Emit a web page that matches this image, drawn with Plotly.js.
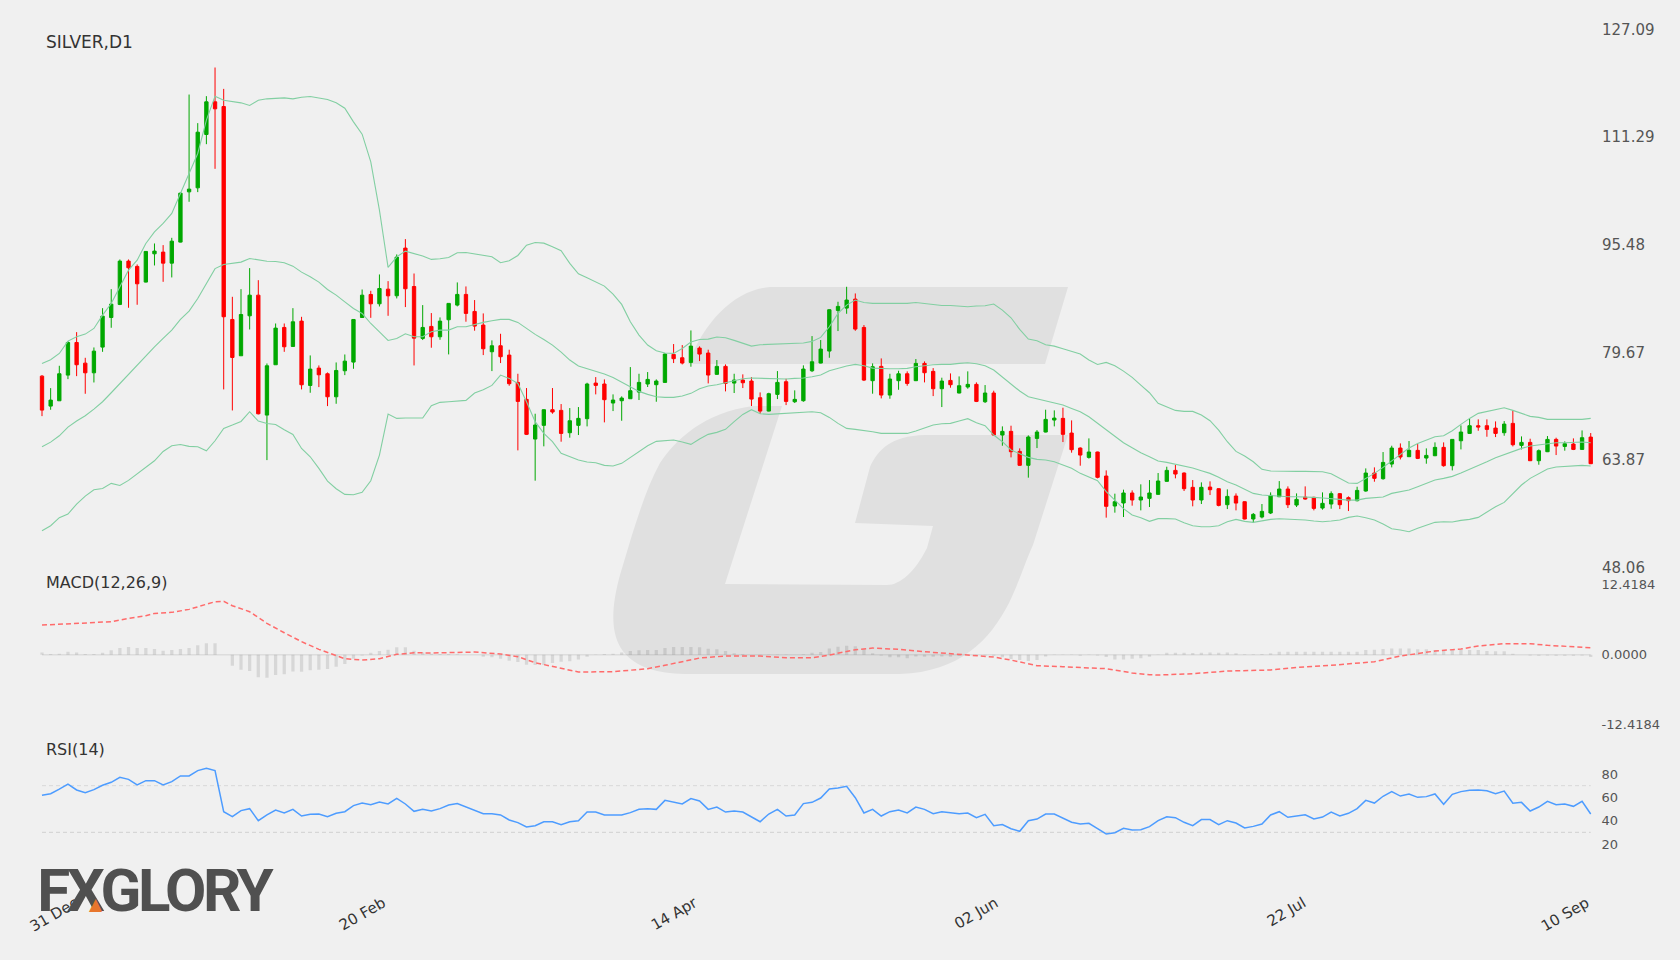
<!DOCTYPE html>
<html>
<head>
<meta charset="utf-8">
<script src="https://cdn.plot.ly/plotly-3.0.1.min.js"></script>
<style>
html, body { margin: 0; padding: 0; background: #f0f0f0; }
#chart { width: 1680px; height: 960px; }
.annotation[data-index="3"] text { letter-spacing: -3.5px; }
</style>
</head>
<body>
<div id="chart"></div>
<script>
// ------------------------------
// Candles
// ------------------------------
var opens = [76.19,71.79,72.57,76.34,81.13,78.10,76.68,80.45,84.80,86.72,93.08,92.30,90.00,94.15,94.40,92.78,95.87,103.25,103.84,111.67,
116.47,115.78,84.51,79.18,85.05,88.08,70.47,77.86,83.34,80.55,84.27,74.82,77.37,76.54,73.16,76.98,78.25,84.80,88.18,86.81,
88.96,87.99,94.99,89.35,81.73,83.49,81.97,84.47,86.62,88.19,85.69,83.69,79.77,80.65,79.28,75.27,72.78,66.95,68.96,71.26,
71.16,67.88,68.96,69.94,75.17,75.03,72.24,72.58,72.87,73.85,75.03,74.93,75.27,79.38,78.89,78.21,80.31,79.58,76.45,77.62,
75.17,75.61,75.47,73.02,71.06,73.51,75.37,72.43,72.58,76.98,78.11,79.87,85.84,86.18,87.50,83.34,75.52,77.62,73.41,75.52,
76.54,75.52,78.06,76.89,74.34,75.56,73.71,74.59,74.98,72.43,73.71,67.54,68.08,65.14,63.09,67.05,67.98,69.74,69.99,67.83,
65.63,64.26,65.05,61.52,57.12,57.56,59.03,58.00,58.24,58.83,60.74,62.35,61.96,59.86,58.00,59.90,59.66,57.31,58.58,57.75,
55.21,55.50,56.09,58.48,59.61,57.26,58.43,58.39,56.82,57.41,58.93,58.34,57.90,59.32,61.96,61.13,63.28,65.63,64.36,65.29,
64.16,64.50,65.73,63.04,66.70,67.78,68.91,68.91,68.56,67.88,69.25,66.02,66.46,63.77,65.09,66.90,65.87,66.22,65.43,67.24];
var highs = [76.34,74.43,77.71,81.33,82.65,78.88,80.40,86.17,88.96,93.32,93.32,92.59,94.50,95.67,95.43,96.50,103.16,117.54,113.34,117.30,
121.51,118.37,87.84,88.96,92.05,90.28,78.05,83.92,83.92,86.17,84.90,79.23,77.76,76.73,78.20,79.37,84.56,88.91,88.72,91.12,
90.14,94.06,96.31,91.26,86.62,85.45,84.81,86.87,89.95,89.36,87.36,85.40,81.44,82.41,80.07,76.54,74.44,70.67,71.31,74.44,
72.09,71.50,71.65,75.22,76.05,75.71,73.51,73.22,77.52,76.54,76.79,75.71,79.53,80.90,80.75,82.90,80.56,80.07,78.55,77.91,
76.54,76.45,76.05,73.80,73.75,76.93,75.81,74.10,77.77,82.07,81.49,85.99,87.11,89.31,88.33,83.69,78.06,78.79,76.54,76.98,
76.89,78.70,78.35,77.37,75.96,76.59,76.15,76.89,75.27,74.88,74.05,68.81,68.91,65.58,67.49,68.27,71.26,71.16,71.55,69.69,
65.73,67.05,65.09,62.35,58.93,59.52,59.42,60.30,60.93,61.96,62.89,63.14,62.06,60.93,60.59,60.74,59.71,59.56,58.97,57.80,
56.09,57.41,59.12,60.78,60.00,58.97,60.00,58.48,59.12,59.27,59.02,58.53,59.95,62.64,62.79,65.04,65.97,66.31,66.66,66.22,
65.58,66.46,66.46,66.95,68.96,69.93,69.84,69.84,69.54,69.59,71.16,67.34,67.00,65.43,67.39,67.15,66.61,67.05,68.22,67.83];
var lows = [70.32,71.25,72.57,75.75,76.19,73.60,75.26,79.76,83.29,86.62,86.23,86.67,89.95,92.44,90.04,90.68,95.82,101.79,103.21,110.25,
106.63,74.24,71.15,79.18,83.04,70.57,63.86,77.86,79.76,80.50,74.24,73.75,74.58,71.79,72.13,76.34,77.27,84.80,84.75,86.42,
85.05,87.60,86.33,77.76,81.49,80.36,81.53,79.38,86.43,84.18,82.86,79.28,76.93,78.11,74.78,65.29,67.54,60.84,65.88,70.67,
66.56,67.15,67.54,68.81,73.51,69.40,71.06,69.64,72.87,72.68,74.59,72.43,75.22,78.11,77.91,77.57,78.40,75.12,76.40,73.95,
73.71,74.44,71.80,70.67,71.01,72.82,71.94,72.24,72.43,76.79,78.06,78.89,82.81,85.35,82.85,75.47,73.61,72.92,72.87,74.19,
74.78,75.47,75.27,73.26,71.65,74.49,73.66,74.34,72.38,72.24,67.44,65.97,64.26,63.04,61.28,65.63,67.93,68.81,66.51,64.95,
63.04,64.07,61.18,55.41,56.14,55.50,57.17,56.48,56.97,58.78,60.69,61.18,59.32,57.07,57.41,58.73,57.07,56.67,56.48,55.16,
54.62,55.30,55.94,58.43,56.82,56.97,58.04,56.48,56.58,56.72,56.67,56.38,57.80,59.22,60.69,60.98,62.79,63.96,64.31,64.01,
63.33,64.45,62.89,62.35,65.43,67.73,68.17,67.29,67.24,67.44,65.87,65.43,63.72,63.18,65.04,64.60,65.24,65.33,65.38,63.28];
var closes = [71.20,72.67,76.54,81.13,77.86,76.68,79.86,85.00,86.76,93.08,92.10,89.75,94.50,94.55,92.78,96.01,103.06,103.65,112.01,116.47,
115.44,84.91,78.93,85.24,88.08,70.66,77.71,83.24,80.50,84.17,74.92,77.22,76.39,73.16,77.02,78.39,84.51,88.08,86.81,89.06,
87.98,93.67,89.02,81.77,83.34,81.97,84.27,86.87,88.19,85.40,83.54,80.21,80.65,79.04,75.08,72.48,67.64,69.01,71.26,70.92,
67.78,69.64,69.99,75.03,74.83,72.73,72.68,72.97,74.05,75.27,75.71,75.47,79.43,78.75,78.11,80.60,79.43,76.35,77.62,75.12,
75.61,75.22,72.82,71.06,73.61,75.27,72.48,72.78,77.23,78.30,80.16,85.94,86.43,87.36,83.10,75.61,77.57,73.41,75.76,76.54,
75.12,78.06,76.69,74.34,75.47,74.93,74.78,74.98,72.48,73.71,67.54,68.08,65.09,63.09,67.25,67.98,69.84,70.03,67.64,65.39,
64.60,65.05,61.33,57.07,57.75,59.03,58.00,58.44,59.03,60.79,62.35,61.81,59.66,58.00,59.86,59.51,57.21,58.53,57.55,55.21,
55.89,56.33,58.68,59.61,57.31,58.09,58.14,56.77,57.51,58.93,57.31,57.90,59.41,61.96,61.18,63.52,65.63,64.31,65.29,64.11,
64.55,65.73,63.04,66.90,67.98,68.91,68.71,68.37,67.78,69.15,66.12,66.46,63.77,65.24,66.90,65.92,66.26,65.43,67.15,63.33];

// ------------------------------
// Bollinger bands
// ------------------------------
var bbUpper = [78.05,78.59,79.52,81.33,81.97,82.36,83.19,85.15,86.86,89.31,91.75,93.22,95.67,97.38,98.61,100.08,103.01,105.70,108.88,113.78,
117.30,116.71,116.56,116.32,115.93,116.71,116.91,116.96,117.05,116.91,117.15,117.25,117.05,116.81,116.32,115.54,113.53,111.72,107.66,100.56,
92.15,93.71,94.55,94.21,93.82,93.33,93.42,93.62,94.30,94.35,94.16,93.96,93.72,92.84,93.13,93.91,95.43,95.82,95.72,95.19,
94.60,92.74,91.22,90.64,90.00,89.41,88.24,86.72,84.18,82.22,80.75,79.92,79.58,79.53,80.26,81.19,81.58,81.63,81.93,81.83,
81.44,80.99,80.60,80.80,80.85,80.85,80.85,80.90,81.05,81.29,81.88,83.44,85.40,86.62,87.36,87.01,86.87,86.87,86.87,86.87,
86.87,87.01,86.87,86.72,86.57,86.57,86.48,86.38,86.48,86.52,86.77,85.89,84.76,83.05,81.63,81.39,80.80,80.60,80.21,79.82,
79.43,78.55,77.91,78.21,77.72,76.93,76.00,74.88,73.75,72.19,71.65,71.16,71.01,71.01,70.47,69.64,68.27,66.56,65.14,64.45,
63.62,62.50,62.25,62.20,62.20,62.20,62.20,62.20,62.15,61.86,61.18,60.49,60.44,61.18,61.91,62.79,63.72,64.75,65.63,66.31,
66.85,67.29,67.44,68.17,69.10,69.98,70.72,71.01,71.21,71.55,71.16,70.72,70.28,70.13,69.84,69.84,69.84,69.84,69.84,69.98];
var bbMiddle = [65.82,66.50,67.43,68.71,69.59,70.37,71.35,72.43,73.75,75.12,76.47,77.76,79.27,80.50,81.72,82.95,84.51,85.73,87.59,89.79,
91.98,92.58,92.73,92.93,93.47,93.22,93.07,93.02,92.83,92.34,91.46,90.77,89.99,88.91,88.08,87.10,86.13,85.39,83.92,82.70,
81.43,81.72,82.41,81.97,81.97,82.71,82.95,82.95,83.44,83.44,83.78,84.08,84.32,84.52,84.52,84.08,83.20,82.32,81.58,80.75,
79.72,78.55,77.67,77.28,76.93,76.49,76.00,75.32,74.59,73.95,73.51,73.17,73.07,73.07,73.27,73.66,74.34,74.73,74.93,75.22,
75.52,75.81,75.91,75.86,75.76,75.76,75.76,75.86,75.91,76.10,76.35,76.98,77.33,77.67,77.91,77.72,77.37,77.28,77.28,77.28,
77.33,77.57,77.77,77.86,77.91,77.91,78.06,78.16,78.01,77.72,77.08,76.10,75.03,74.00,73.17,72.87,72.58,72.34,71.94,71.45,
70.96,70.23,69.25,68.37,67.29,66.41,65.68,64.95,64.36,63.72,63.53,63.28,62.99,62.70,62.30,61.91,61.33,60.69,60.20,59.56,
58.97,58.73,58.63,58.58,58.48,58.48,58.48,58.39,58.29,58.14,58.09,57.99,57.99,58.24,58.29,58.44,58.97,59.17,59.46,59.95,
60.44,60.93,61.18,61.47,61.96,62.50,62.99,63.62,64.21,64.70,65.19,65.58,65.92,66.07,66.22,66.41,66.41,66.46,66.51,66.41];
var bbLower = [53.49,54.22,55.40,55.94,57.40,58.58,59.51,59.70,60.44,60.14,60.88,61.86,62.79,63.76,65.13,65.97,66.16,65.87,65.82,65.23,
66.70,68.51,69.00,69.54,70.96,69.59,69.24,69.10,68.31,67.63,65.57,64.35,62.64,60.78,59.66,58.82,58.77,59.12,60.83,64.60,
70.61,69.98,70.04,70.04,70.04,71.85,72.34,72.43,72.48,72.63,73.71,74.19,74.83,76.35,75.86,75.12,72.43,69.50,67.78,66.56,
64.85,64.41,63.87,63.58,63.48,63.09,62.99,63.38,64.21,65.09,65.97,66.61,66.71,66.81,66.51,66.17,66.95,67.64,67.93,68.37,
69.50,70.57,71.26,70.67,70.57,70.67,70.72,70.77,70.87,70.97,70.82,70.13,69.25,68.52,68.37,68.22,68.03,67.78,67.78,67.88,
67.78,68.13,68.52,69.01,69.20,69.25,69.59,69.94,69.35,68.91,67.54,66.56,65.34,64.75,64.26,63.97,63.87,63.63,63.14,62.65,
61.91,61.42,60.84,59.22,58.00,56.73,55.80,55.41,54.87,55.26,55.26,55.21,54.67,54.23,54.08,54.08,54.23,54.81,55.16,54.86,
54.72,54.96,55.16,55.25,55.21,55.11,55.06,54.91,54.81,54.91,55.06,55.45,55.65,55.40,55.06,54.47,53.79,53.59,53.35,53.84,
54.28,54.72,54.81,54.77,55.01,55.16,55.45,56.28,57.02,57.65,58.97,60.20,61.18,61.81,62.55,62.84,62.94,63.04,63.08,62.99];

// ------------------------------
// MACD
// ------------------------------
var macdHist = [.41,.12,.18,.53,.41,.12,.12,.35,.77,1.18,1.36,1.18,1.18,1.00,.71,.83,1.00,1.18,1.66,2.01,
2.01,0,-1.95,-2.66,-2.90,-4.02,-4.08,-3.61,-3.49,-2.96,-3.02,-2.78,-2.66,-2.54,-2.13,-1.66,-.71,-.12,.35,.65,
.89,1.30,1.30,.71,.41,.18,.12,.12,.06,0,0,-.35,-.47,-.71,-1.06,-1.30,-1.77,-1.83,-1.83,-1.48,
-1.24,-1.18,-.83,-.35,-.06,.12,.18,.41,.65,.77,.83,.83,1.18,1.36,1.36,1.36,1.30,1.06,.95,.65,
.24,.12,0,-.06,-.06,-.06,-.06,0,.06,.35,.47,1.12,1.42,1.60,1.48,.95,.24,-.12,-.47,-.47,
-.65,-.30,-.35,-.35,-.30,-.35,-.24,-.06,-.12,-.12,-.18,-.47,-.77,-.95,-1.12,-.95,-.30,-.06,-.06,-.06,
-.18,-.06,-.12,-.41,-.83,-.83,-.71,-.65,-.35,-.06,.35,.35,.35,.30,.35,.41,.35,.41,.24,.06,
.06,.12,.24,.53,.53,.53,.53,.53,.53,.53,.53,.53,.53,.83,.89,1.00,1.12,1.12,1.12,.95,
.95,.83,.83,.83,.83,.83,.83,.65,.59,.59,.18,0,-.12,-.18,-.12,-.18,-.18,-.18,-.12,-.41];
var signalIdx = [0,2,4,6,8,10,12,13,15,17,18,20,21,22,24,26,28,30,32,34,35,37,39,41,43,45,48,50,53,55,57,60,62,66,70,72,76,79,83,86,89,91,94,96,99,103,106,110,112,115,118,120,123,125,126,128,129,133,137,142,145,149,154,157,161,164,166,169,172,174,179];
var signalVals = [5.26,5.44,5.62,5.68,5.85,6.45,6.92,7.33,7.51,8.04,8.46,9.40,9.46,8.69,7.63,5.56,3.90,2.31,.95,-.24,-.71,-.95,-.71,.06,.35,.30,.47,.47,.12,-.35,-1.42,-2.48,-3.07,-3.02,-2.48,-1.89,-.59,-.24,-.24,-.53,-.53,-.06,.89,1.18,.95,.41,.06,-.41,-.95,-1.95,-2.13,-2.25,-2.48,-2.96,-3.25,-3.55,-3.61,-3.37,-2.90,-2.72,-2.25,-1.89,-1.24,-.24,.65,1.01,1.54,1.95,1.95,1.66,1.24];
var macdZero = 0;

// ------------------------------
// RSI
// ------------------------------
var rsiVals = [61.7,63.1,67.1,71.4,66.3,64.0,66.6,70.3,72.9,77.1,75.4,70.6,74.3,74.3,70.6,73.4,78.3,78.3,82.9,84.9,
82.9,47.7,43.4,48.6,50.3,40.0,44.9,49.1,46.6,49.7,44.0,45.4,45.7,43.4,46.3,47.7,52.9,55.1,53.7,56.0,
54.3,59.1,54.3,48.0,49.7,48.3,50.3,53.4,54.6,51.7,49.4,46.0,46.0,44.9,40.6,38.3,34.6,35.7,39.1,39.1,
36.6,39.1,40.0,47.4,47.4,44.9,44.9,44.9,46.9,49.7,50.3,49.7,57.4,56.0,54.3,58.9,56.9,49.7,51.7,47.4,
48.3,47.4,42.9,39.1,45.7,49.7,44.0,44.9,54.6,55.7,59.4,67.1,68.0,69.4,59.7,46.6,49.7,44.0,47.7,49.1,
46.6,51.7,49.7,46.0,47.7,47.1,46.0,46.6,42.6,45.4,35.7,36.6,33.1,30.9,40.0,41.4,45.7,45.7,42.0,38.6,
37.1,37.7,33.1,28.6,29.7,33.4,32.0,32.3,34.9,40.0,43.4,42.6,38.6,35.7,40.9,40.9,36.6,40.0,38.0,33.7,
35.1,37.1,44.9,47.7,42.9,44.3,45.1,41.4,43.1,47.4,44.0,46.3,50.3,57.4,55.1,60.9,64.9,61.1,62.9,60.0,
60.6,62.9,54.0,62.6,64.9,66.0,66.3,65.7,63.1,65.4,54.9,55.7,48.3,51.7,56.6,53.7,54.3,52.3,56.6,45.7];
var rsiLevels = [70, 30];

// ------------------------------
// Axis ticks and labels
// ------------------------------
var dateTickIdx = [3.9, 39.4, 75.4, 110.2, 145.8, 178.5];
var dateTickText = ['31 Dec', '20 Feb', '14 Apr', '02 Jun', '22 Jul', '10 Sep'];
var priceTicks = [48.06, 63.87, 79.67, 95.48, 111.29, 127.09];
var macdTicks = [-12.4184, 0, 12.4184];
var macdTickText = ['-12.4184', '0.0000', '12.4184'];
var rsiTicks = [20, 40, 60, 80];

var idx = opens.map(function (v, i) { return i; });

// page pixels to paper coordinates, paper x runs over the plot area only
var marginL = 37, marginR = 84;
var plotW = 1680 - marginL - marginR;
function paperX(x) { return (x - marginL) / plotW; }
function paperY(y) { return 1 - y / 960; }
function paperPath(cmds) {
  return cmds.map(function (c) {
    var pts = [];
    for (var i = 1; i < c.length; i += 2) pts.push(paperX(c[i]).toFixed(5) + ',' + paperY(c[i + 1]).toFixed(5));
    return c[0] + pts.join(' ');
  }).join(' ');
}

function bandTrace(vals, name) {
  return { x: idx, y: vals, name: name, type: 'scatter', mode: 'lines', yaxis: 'y',
    line: { color: '#82cfa2', width: 1.1 } };
}

var data = [
  { type: 'candlestick', x: idx, open: opens, high: highs, low: lows, close: closes, yaxis: 'y',
    increasing: { line: { color: '#00a800', width: 1 }, fillcolor: '#00a800' },
    decreasing: { line: { color: '#ff0000', width: 1 }, fillcolor: '#ff0000' },
    whiskerwidth: 0 },
  bandTrace(bbUpper, 'upper'),
  bandTrace(bbMiddle, 'middle'),
  bandTrace(bbLower, 'lower'),
  { type: 'scatter', mode: 'lines', x: [0, 179], y: [macdZero, macdZero], yaxis: 'y2',
    line: { color: 'rgba(0,0,0,0.08)', width: 1.5 } },
  { type: 'bar', x: idx, y: macdHist, yaxis: 'y2', marker: { color: 'rgba(0,0,0,0.1)', line: { width: 0 } } },
  { type: 'scatter', mode: 'lines', x: signalIdx, y: signalVals, yaxis: 'y2',
    line: { color: '#ff6b6b', width: 1.5, dash: '5px,3px' } },
  { type: 'scatter', mode: 'lines', x: [0, 179], y: [rsiLevels[0], rsiLevels[0]], yaxis: 'y3',
    line: { color: '#d8d8d8', width: 1, dash: '4px,3px' } },
  { type: 'scatter', mode: 'lines', x: [0, 179], y: [rsiLevels[1], rsiLevels[1]], yaxis: 'y3',
    line: { color: '#d0d0d0', width: 1, dash: '4px,3px' } },
  { type: 'scatter', mode: 'lines', x: idx, y: rsiVals, yaxis: 'y3',
    line: { color: '#4d9cff', width: 1.5 } }
];

function caption(text, x, y, size) {
  return { text: text, xref: 'paper', yref: 'paper', x: paperX(x), y: paperY(y),
    xanchor: 'left', yanchor: 'middle', showarrow: false,
    font: { family: 'DejaVu Sans', size: size, color: '#333333' } };
}

var layout = {
  width: 1680, height: 960,
  margin: { l: marginL, r: marginR, t: 0, b: 0 },
  paper_bgcolor: '#f0f0f0', plot_bgcolor: 'rgba(0,0,0,0)',
  showlegend: false, dragmode: false, hovermode: false,
  bargap: 0.62, boxgap: 0.45,
  font: { family: 'DejaVu Sans', color: '#555555' },
  xaxis: { range: [-0.578, 179.61], anchor: 'y3', showgrid: false, zeroline: false, showline: false,
    rangeslider: { visible: false }, tickmode: 'array', tickvals: dateTickIdx, ticktext: dateTickText,
    tickangle: -30, ticks: 'outside', ticklen: 32, tickcolor: 'rgba(0,0,0,0)',
    tickfont: { size: 15, color: '#333333' } },
  yaxis: { domain: [1 - 567.7 / 960, 1 - 29.5 / 960], range: [48.06, 127.09], side: 'right', anchor: 'x',
    showgrid: false, zeroline: false, tickmode: 'array', tickvals: priceTicks,
    ticktext: priceTicks.map(function (v) { return v.toFixed(2); }),
    ticks: 'outside', ticklen: 2, tickcolor: 'rgba(0,0,0,0)', tickfont: { size: 15, color: '#555555' } },
  yaxis2: { domain: [1 - 724.7 / 960, 1 - 584.7 / 960], range: [-12.4184, 12.4184], side: 'right', anchor: 'x',
    showgrid: false, zeroline: false,
    tickmode: 'array', tickvals: macdTicks, ticktext: macdTickText,
    ticks: 'outside', ticklen: 2, tickcolor: 'rgba(0,0,0,0)', tickfont: { size: 13, color: '#555555' } },
  yaxis3: { domain: [1 - 855.67 / 960, 1 - 762.33 / 960], range: [10, 90], side: 'right', anchor: 'x',
    showgrid: false, zeroline: false, tickmode: 'array', tickvals: rsiTicks,
    ticks: 'outside', ticklen: 2, tickcolor: 'rgba(0,0,0,0)', tickfont: { size: 13, color: '#555555' } },
  annotations: [
    caption('SILVER,D1', 43.5, 42, 17),
    caption('MACD(12,26,9)', 43.5, 582, 16),
    caption('RSI(14)', 43.5, 749, 16),
    { text: '<b>FXGLORY</b>', xref: 'paper', yref: 'paper', x: paperX(23), y: paperY(890.5),
      xanchor: 'left', yanchor: 'middle', showarrow: false,
      font: { family: 'Roboto', size: 60, color: '#505050' } },
    { text: '\u25B2', xref: 'paper', yref: 'paper', x: paperX(96), y: paperY(904),
      xanchor: 'center', yanchor: 'middle', showarrow: false,
      font: { family: 'DejaVu Sans', size: 17, color: '#e8762c' } }
  ],
  shapes: [
    { type: 'path', xref: 'paper', yref: 'paper', layer: 'below', fillcolor: '#e0e0e0', line: { width: 0 },
      path: paperPath([
        ['M', 1068, 287], ['L', 770, 287], ['C', 735, 290, 705, 320, 688, 364], ['L', 1045, 364], ['Z']
      ]) },
    { type: 'path', xref: 'paper', yref: 'paper', layer: 'below', fillcolor: '#e0e0e0', line: { width: 0 },
      path: paperPath([
        ['M', 782, 406], ['L', 753, 406], ['C', 705, 412, 675, 440, 660, 463], ['C', 648, 485, 640, 510, 632, 535],
        ['L', 620, 575], ['C', 605, 630, 610, 674, 690, 674], ['L', 900, 674], ['C', 960, 672, 990, 640, 1009, 603],
        ['C', 1020, 580, 1026, 560, 1033, 545], ['L', 1068, 435], ['L', 925, 435], ['C', 890, 436, 878, 450, 870, 467],
        ['L', 855, 523], ['L', 933, 526], ['L', 927, 548], ['C', 915, 572, 900, 585, 887, 585], ['L', 725, 584], ['Z']
      ]) }
  ]
};

Plotly.newPlot('chart', data, layout, { displayModeBar: false, staticPlot: true });
</script>
</body>
</html>
